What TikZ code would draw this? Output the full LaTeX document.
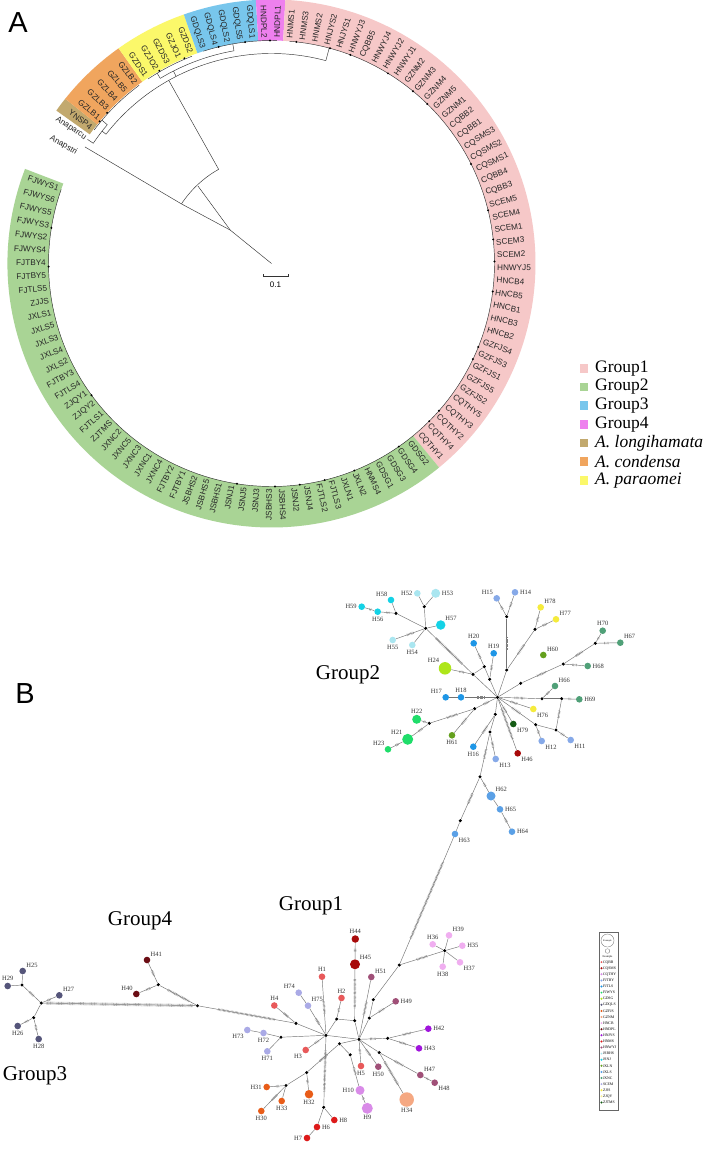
\documentclass[tikz,border=0pt]{standalone}
\usepackage{fontspec}
\setmainfont{Liberation Serif}
\newfontfamily\lsans{Liberation Sans}
\usetikzlibrary{positioning,decorations.markings}
% ring and legend colours
\definecolor{cPink}{HTML}{F6C8C8}
\definecolor{cGreen}{HTML}{A9D495}
\definecolor{cBlue}{HTML}{78C6EC}
\definecolor{cMagenta}{HTML}{EE80EE}
\definecolor{cTan}{HTML}{C2A96E}
\definecolor{cOrange}{HTML}{F0A55E}
\definecolor{cYellow}{HTML}{FBF86A}
% haplotype colours
\definecolor{cRed}{HTML}{E8595A}
\definecolor{cRedB}{HTML}{DD1A1A}
\definecolor{cViolet}{HTML}{D98BE8}
\definecolor{cLtBlue}{HTML}{86A9E8}
\definecolor{cBlueA}{HTML}{1E96E6}
\definecolor{cGreenA}{HTML}{1FDD6A}
\definecolor{cLime}{HTML}{AEE61A}
\definecolor{cSlate}{HTML}{55557A}
\definecolor{cOrg}{HTML}{E85C18}
\definecolor{cSalmon}{HTML}{F5A882}
\definecolor{cPinkB}{HTML}{F0AEF0}
\definecolor{cMaroon}{HTML}{6B0D14}
\definecolor{cPurple}{HTML}{A014DC}
\definecolor{cDkRed}{HTML}{A80A0A}
\definecolor{cMauve}{HTML}{A05078}
\definecolor{cLtCyan}{HTML}{AAE6F0}
\definecolor{cCyan}{HTML}{14D2E6}
\definecolor{cOlive}{HTML}{64A01E}
\definecolor{cBlueB}{HTML}{5AA0E6}
\definecolor{cTeal}{HTML}{50A078}
\definecolor{cLav}{HTML}{AAAAE6}
\definecolor{cYel}{HTML}{F5EB3C}
\definecolor{cYelL}{HTML}{F8F19A}
\definecolor{cDkGreen}{HTML}{145A14}

\begin{document}
\begin{tikzpicture}[x=1pt,y=-1pt,
    tip/.style={font=\lsans\fontsize{8.2}{9}\selectfont,inner sep=0pt,text=black!85},
    br/.style={line width=0.45pt,black!80},
    hap/.style={circle,fill=#1,inner sep=0pt,minimum size=6.6pt},
    mv/.style={circle,fill=black,inner sep=0pt,minimum size=3.4pt},
    link/.style={draw=black!55,line width=0.45pt},
    mut/.style={link,postaction={decorate,decoration={markings,mark=between positions 0.38 and 0.62 step 1.3pt with {\draw[black!50,line width=0.35pt] (0,-1.2pt) -- (0,1.2pt);}}}},
    mutl/.style={link,postaction={decorate,decoration={markings,mark=between positions 0.2 and 0.8 step 1.3pt with {\draw[black!50,line width=0.35pt] (0,-1.2pt) -- (0,1.2pt);}}}},
    mutx/.style={link,postaction={decorate,decoration={markings,mark=between positions 0.02 and 0.98 step 1.1pt with {\draw[black!45,line width=0.35pt] (0,-1.5pt) -- (0,1.5pt);}}}},
    grp/.style={font=\fontsize{21}{22}\selectfont},
    panel/.style={font=\lsans\fontsize{29}{30}\selectfont},
    every label/.style={font=\fontsize{6.5}{7}\selectfont,text=black!80,inner sep=0.5pt},
    label distance=0.8pt]
  \fill[white] (0,0) rectangle (709,1149);
  \useasboundingbox (0,0) rectangle (709,1149);

  \node[panel] (pa) at (18,23) {A};
  \node[panel] (pb) at (25,694) {B};

  % circular tree
  \begin{scope}[shift={(271.5,263.5)},y=1pt]
    \foreach \bcol/\bst/\ben in {cTan/144.6/141.4,cOrange/141.4/125.4,cYellow/125.4/109.4,cBlue/109.4/93.4,cMagenta/93.4/87,cPink/87/-50.6,cGreen/-50.6/-201}
      \fill[\bcol] (\bst:223) arc[start angle=\bst,end angle=\ben,radius=223] -- (\ben:264) arc[start angle=\ben,end angle=\bst,radius=264] -- cycle;
    % branches
    \draw[br] (0,0) -- (141:53) -- (146.5:108);
    \draw[br] (141:53) -- (133.5:107);
    \draw[br] (146.5:108) arc[start angle=146.5,end angle=119.3,radius=108];
    \draw[br] (146.5:108) -- (148:220);
    \draw[br] (119.3:108) -- (119.3:210);
    \draw[br] (142:210) arc[start angle=142,end angle=75,radius=210];
    \draw[br] (142:210) -- (142:215);
    \draw[br] (146:215) arc[start angle=146,end angle=139.8,radius=215];
    \draw[br] (146:215) -- (146:222);
    \draw[br] (139.8:215) -- (139.8:222);
    \draw[br] (143:222) arc[start angle=143,end angle=126.6,radius=222];
    \draw[br] (117:210) -- (117:216);
    \draw[br] (121:216) arc[start angle=121,end angle=100,radius=216];
    \draw[br] (121:216) -- (121:222);
    \draw[br] (123.8:222) arc[start angle=123.8,end angle=111,radius=222];
    \draw[br] (100:216) -- (100:223);
    \draw[br] (107.8:223) arc[start angle=107.8,end angle=88.6,radius=223];
    \draw[br] (75:210) -- (75:223);
    \draw[br] (85.4:223) arc[start angle=85.4,end angle=-199.4,radius=223];
    \foreach \d in {137.5,140.4,120.2,113,103.7,96.8,90.4,83.6,74.8,69.3,58.5,50.6,45.7,26.5,13.8,6.2,0.5,-7.2,-22,-25.4,-41.3,-45,-55.2,-68.2,-76.2,-82.7,-89.1,-98.9,-143.8,-179.2,-189.2}
      \fill (\d:223) circle (1.1);
    % outgroups
    \node[tip,rotate=-29.6,anchor=east] (anapstri) at (150.4:224) {Anapstri};
    \node[tip,rotate=-34,anchor=east] (anaparcu) at (146:224) {Anaparcu};
    % tip labels
    \foreach \t [count=\i from 2] in {YNSP4,GZLB1,GZLB3,GZLB4,GZLB5,GZLB2,GZDS1,GZJO2,GZDS3,GZJO1,GZDS2,GDQLS3,GDQLS4,GDQLS2,GDQLS5,GDQLS1,HNDPL2,HNDPL1,HNMS1,HNMS3,HNMS2,HNJYS2,HNJYS1,HNWYJ3,CQBB5,HNWYJ4,HNWYJ2,HNWYJ1,GZNM2,GZNM3,GZNM4,GZNM5,GZNM1,CQBB2,CQBB1,CQSMS3,CQSMS2,CQSMS1,CQBB4,CQBB3,SCEM5,SCEM4,SCEM1,SCEM3,SCEM2,HNWYJ5,HNCB4,HNCB5,HNCB1,HNCB3,HNCB2,GZFJS4,GZFJS3,GZFJS1,GZFJS5,GZFJS2,CQTHY5,CQTHY3,CQTHY2,CQTHY4,CQTHY1,GDSG2,GDSG4,GDSG3,GDSG1,HNMS4,JXLN2,JXLN1,FJTLS3,FJTLS2,JSNJ4,JSNJ2,JSBHS4,JSBHS3,JSNJ3,JSNJ5,JSNJ1,JSBHS1,JSBHS5,JSBHS2,FJTBY1,FJTBY2,JXNC4,JXNC1,JXNC3,JXNC5,JXNC2,ZJTMS,FJTLS1,ZJQY2,ZJQY1,FJTLS4,FJTBY3,JXLS2,JXLS4,JXLS3,JXLS5,JXLS1,ZJJS,FJTLS5,FJTBY5,FJTBY4,FJWYS4,FJWYS2,FJWYS3,FJWYS5,FJWYS6,FJWYS1}{
      \pgfmathsetmacro\a{149.4-3.2*\i}
      \pgfmathtruncatemacro\flp{(\a>90 || \a<-90)}
      \ifnum\flp=1 \def\anc{east}\pgfmathsetmacro\rot{\a+180}\else\def\anc{west}\let\rot\a\fi
      \node[tip,rotate=\rot,anchor=\anc] at (\a:225.5) {\t};
    }
  \end{scope}

  % scale bar
  \draw[br] (263,274) -- (263,276.5) -- (288,276.5) -- (288,274);
  \node[font=\lsans\fontsize{8}{9}\selectfont] (sbar) at (275.5,284.5) {0.1};

  % legend of the tree
  \foreach \c/\t [count=\i] in {cPink/Group1,cGreen/Group2,cBlue/Group3,cMagenta/Group4,cTan/{\textit{A. longihamata}},cOrange/{\textit{A. condensa}},cYellow/{\textit{A. paraomei}}}{
    \fill[\c] (580,368.3+18.67*\i-18.67-4.2) rectangle (588.4,368.3+18.67*\i-18.67+4.2);
    \node[anchor=west,font=\fontsize{17.5}{18}\selectfont,inner sep=0pt] at (595,368.3+18.67*\i-18.67) {\t};
  }

  % haplotypes, group 2
  \node[hap=cCyan,label=left:H59] (h59) at (361.7,606.7) {};
  \node[hap=cCyan,label=below:H56] (h56) at (377.7,611.7) {};
  \node[hap=cCyan,label=above left:H58] (h58) at (391,600) {};
  \node[hap=cLtCyan,label=left:H52] (h52) at (417.3,593.3) {};
  \node[hap=cLtCyan,minimum size=9pt,label=right:H53] (h53) at (435.7,593.3) {};
  \node[hap=cCyan,minimum size=9.5pt,label=above right:H57] (h57) at (440.7,625) {};
  \node[hap=cLtCyan,label=below:H55] (h55) at (392.7,640) {};
  \node[hap=cLtCyan,label=below:H54] (h54) at (412.3,645) {};
  \node[hap=cLtBlue,label=above left:H15] (h15) at (496.7,598.3) {};
  \node[hap=cLtBlue,label=right:H14] (h14) at (515,592.3) {};
  \node[hap=cBlueA,label=above:H20] (h20) at (473.7,643.3) {};
  \node[hap=cBlueA,label=above:H19] (h19) at (493.7,653.3) {};
  \node[hap=cLime,minimum size=12.5pt,label=above left:H24] (h24) at (445,668.3) {};
  \node[hap=cYel,label=above right:H78] (h78) at (540.7,607.3) {};
  \node[hap=cYel,label=above right:H77] (h77) at (556,619.3) {};
  \node[hap=cOlive,label=above right:H60] (h60) at (543.3,655) {};
  \node[hap=cTeal,label=above:H70] (h70) at (602.7,630.7) {};
  \node[hap=cTeal,label=above right:H67] (h67) at (620.3,642.7) {};
  \node[hap=cTeal,label=right:H68] (h68) at (587.7,666) {};
  \node[hap=cTeal,label=above right:H66] (h66) at (555,686) {};
  \node[hap=cTeal,label=right:H69] (h69) at (579.3,699.3) {};
  \node[hap=cYel,label=below right:H76] (h76) at (533.3,709) {};
  \node[hap=cDkGreen,label=below right:H79] (h79) at (513.3,724) {};
  \node[hap=cLtBlue,label=below right:H12] (h12) at (541.7,741) {};
  \node[hap=cLtBlue,label=below right:H11] (h11) at (570.7,740) {};
  \node[hap=cDkRed,label=below right:H46] (h46) at (517.7,753.3) {};
  \node[hap=cLtBlue,label=below right:H13] (h13) at (495.7,759) {};
  \node[hap=cBlueA,label=below:H16] (h16) at (473.3,746.7) {};
  \node[hap=cOlive,label=below:H61] (h61) at (452,735.3) {};
  \node[hap=cBlueA,label=above left:H17] (h17) at (445.7,697.3) {};
  \node[hap=cBlueA,label=above:H18] (h18) at (461,697.3) {};
  \node[hap=cGreenA,minimum size=9pt,label=above:H22] (h22) at (416.7,719.3) {};
  \node[hap=cGreenA,minimum size=11pt,label=above left:H21] (h21) at (407.7,739.3) {};
  \node[hap=cGreenA,label=above left:H23] (h23) at (388,749.3) {};
  \node[hap=cBlueB,minimum size=9pt,label=above right:H62] (h62) at (491,796) {};
  \node[hap=cBlueB,label=right:H65] (h65) at (500,809.3) {};
  \node[hap=cBlueB,label=right:H64] (h64) at (512,831.7) {};
  \node[hap=cBlueB,label=below right:H63] (h63) at (455,834) {};
  % haplotypes, group 1
  \node[hap=cPinkB,label=above:H36] (h36) at (432.7,944.3) {};
  \node[hap=cPinkB,label=above right:H39] (h39) at (449,935.3) {};
  \node[hap=cPinkB,label=right:H35] (h35) at (462.3,945.7) {};
  \node[hap=cPinkB,label=below right:H37] (h37) at (460,962.3) {};
  \node[hap=cPinkB,label=below:H38] (h38) at (442.7,966.7) {};
  \node[hap=cDkRed,minimum size=7.5pt,label=above:H44] (h44) at (355.3,939) {};
  \node[hap=cDkRed,minimum size=10pt,label=above right:H45] (h45) at (355,964.3) {};
  \node[hap=cMauve,label=above right:H51] (h51) at (371.3,977) {};
  \node[hap=cRed,label=above:H1] (h1) at (322,976.7) {};
  \node[hap=cRed,label=above:H2] (h2) at (341.5,998) {};
  \node[hap=cLav,label=above left:H74] (h74) at (298.7,992.7) {};
  \node[hap=cLav,label=above right:H75] (h75) at (308,1005.7) {};
  \node[hap=cMauve,label=right:H49] (h49) at (395.7,1001.3) {};
  \node[hap=cRed,label=above:H4] (h4) at (274.3,1005.5) {};
  \node[hap=cLav,label=below left:H73] (h73) at (247.3,1030) {};
  \node[hap=cLav,label=below:H72] (h72) at (263.5,1033) {};
  \node[hap=cLav,label=below:H71] (h71) at (267.3,1051.3) {};
  \node[hap=cRed,label=below left:H3] (h3) at (305.7,1050) {};
  \node[hap=cPurple,label=right:H42] (h42) at (428.3,1028.7) {};
  \node[hap=cPurple,label=right:H43] (h43) at (419,1048.3) {};
  \node[hap=cRed,label=below:H5] (h5) at (361,1066) {};
  \node[hap=cMauve,label=below:H50] (h50) at (378.3,1066.7) {};
  \node[hap=cMauve,label=above right:H47] (h47) at (420.3,1075) {};
  \node[hap=cMauve,label=below right:H48] (h48) at (434.7,1082.7) {};
  \node[hap=cViolet,minimum size=9pt,label=left:H10] (h10) at (360,1090.3) {};
  \node[hap=cViolet,minimum size=11pt,label=below:H9] (h9) at (367.3,1108.3) {};
  \node[hap=cSalmon,minimum size=14.5pt,label=below:H34] (h34) at (406.7,1099.5) {};
  \node[hap=cOrg,minimum size=8.5pt,label=below:H32] (h32) at (309,1094.2) {};
  \node[hap=cOrg,label=left:H31] (h31) at (266.7,1087) {};
  \node[hap=cOrg,label=below:H33] (h33) at (281.7,1101) {};
  \node[hap=cOrg,label=below:H30] (h30) at (261.3,1111) {};
  \node[hap=cRedB,label=right:H8] (h8) at (334.3,1120) {};
  \node[hap=cRedB,label=right:H6] (h6) at (317,1127) {};
  \node[hap=cRedB,label=left:H7] (h7) at (307,1138) {};
  % haplotypes, groups 3 and 4
  \node[hap=cMaroon,label=above right:H41] (h41) at (147,960) {};
  \node[hap=cMaroon,label=above left:H40] (h40) at (136.3,994) {};
  \node[hap=cSlate,label=above right:H25] (h25) at (22.7,971) {};
  \node[hap=cSlate,label=above:H29] (h29) at (7.7,986) {};
  \node[hap=cSlate,label=above right:H27] (h27) at (59.3,995.3) {};
  \node[hap=cSlate,label=below:H26] (h26) at (17.7,1026) {};
  \node[hap=cSlate,label=below:H28] (h28) at (38.7,1039) {};

  % median vectors
  \foreach \n/\p in {n1/{497.5,697.3},n2/{425.7,628.3},n3/{424.3,606.7},n4/{396,613.3},n5/{473,674.3},n6/{484.3,666.7},n7/{489.7,679.3},n8/{506.7,616.7},n9/{506.7,670},n10/{535,629.3},n11/{520.7,683.3},n12/{563.3,664},n13/{595.3,643.3},n14/{542,698.7},n15/{561.7,698.7},n16/{556,730},n17/{535.7,724.7},n18/{495.3,714.3},n19/{490,732},n20/{474.7,708.7},n21/{429.3,723.3},n22/{480,776.7},n23/{460.3,820.7},n24/{399.3,965},n25/{444.7,950.7},n26/{373.3,999.7},n27/{369.3,1018},n28/{354.7,1020.7},n29/{336.7,1019},n30/{326,1035.3},n31/{359,1039.3},n32/{339.5,1043.7},n33/{350.2,1054.8},n34/{387.7,1038.3},n35/{379.2,1052.5},n36/{306.7,1072.5},n37/{286,1085.5},n38/{296,1023.3},n39/{281,1037.2},n40/{323.7,1107.3},n41/{197.5,1005.7},n42/{158.3,984.7},n43/{41.3,1003},n44/{22,985},n45/{33.7,1017.7}}
    \node[mv] (\n) at (\p) {};

  \node[grp] (lg2) at (348,675) {Group2};
  \node[grp] (lg1) at (311,906) {Group1};
  \node[grp] (lg4) at (140,921) {Group4};
  \node[grp] (lg3) at (35,1076) {Group3};

  % links
  \foreach \x/\y in {n3/h52,n3/h53,n2/h57,n2/h54,n2/n3,n2/n4,n4/h58,n5/n1,n5/n6,n6/n7,n7/n1,n9/n1,n11/n1,n14/n15,n17/n16,n18/n19,h18/h17,h62/h65,n23/h63,n24/n26,n26/n27,n27/n31,n28/n31,n28/n29,n29/n30,n30/n31,n31/n32,n32/n33,n37/h33,n39/h71,n40/h8,n40/h6,h6/h7,n44/h25,n44/h29,n43/n45,h75/h74,n39/h72,h72/h73,n35/n31,n25/h36,n25/h39,n25/h35,n25/h37,n25/h38,n38/n30,n30/n39,n36/n37,n1/n18}
    {\draw[link] (\x) -- (\y);}
  \foreach \x/\y in {n2/h55,n4/h56,h56/h59,n5/h24,n6/h20,n7/h19,h15/n8,h14/n8,n8/n9,n10/h78,n10/h77,n10/n9,n11/n12,n12/h68,n12/n13,n13/h70,n13/h67,n1/n14,n14/h66,n15/h69,n15/n16,n1/n17,n16/h11,n17/h12,n1/h76,n1/h79,n18/h16,n19/h13,n19/n22,n1/n20,n20/n21,n21/h22,n21/h21,h21/h23,n20/h61,n1/h18,n22/h62,h65/h64,n22/n23,n24/n25,n27/h49,h51/n31,h44/h45,n29/h2,n30/h1,n30/h75,n30/h3,n38/h4,n31/n34,n34/h42,n34/h43,n31/h5,n31/h50,n35/h47,h47/h48,n33/h10,h10/h9,n32/n36,n36/h32,n37/h31,n37/h30,n44/n43,n43/h27,n45/h26,n45/h28,n42/h41,n42/h40}
    {\draw[mut] (\x) -- (\y);}
  \foreach \x/\y in {n2/n5,n1/h46,h63/n24,h45/n28,n35/h34,n30/n40,n41/n38,n41/n42}
    {\draw[mutl] (\x) -- (\y);}
  \draw[mutx] (n43) -- (n41);

  % legend of the network
  \draw[black!60,line width=0.5pt] (599,932) rectangle (618,1110);
  \draw[black!60,line width=0.3pt] (607.5,940.5) circle (6.5);
  \node[font=\fontsize{2.4}{3}\selectfont] at (607.5,940.5) {Example};
  \draw[black!60,line width=0.3pt] (607.5,951) circle (2.3);
  \node[font=\fontsize{2.8}{3}\selectfont] at (607.5,956.5) {Example};
  \foreach \p/\c [count=\i] in {CQBB/cRed,CQSMS/cDkRed,CQTHY/cViolet,FJTBY/cLtBlue,FJTLS/cBlueA,FJWYS/cGreenA,GDSG/cLime,GDQLS/cSlate,GZFJS/cOrg,GZNM/cSalmon,HNCB/cPinkB,HNDPL/cMaroon,HNJYS/cPurple,HNMS/cRedB,HNWYJ/cMauve,JSBHS/cLtCyan,JSNJ/cCyan,JXLN/cOlive,JXLS/cBlueB,JXNC/cTeal,SCEM/cLav,ZJJS/cYel,ZJQY/cYelL,ZJTMS/cDkGreen}{
    \fill[\c] (601.5,956+6.1*\i) circle (1.1);
    \node[anchor=west,inner sep=0pt,font=\fontsize{3.8}{4}\selectfont] at (602.8,956+6.1*\i) {\p};
  }
\end{tikzpicture}
\end{document}
